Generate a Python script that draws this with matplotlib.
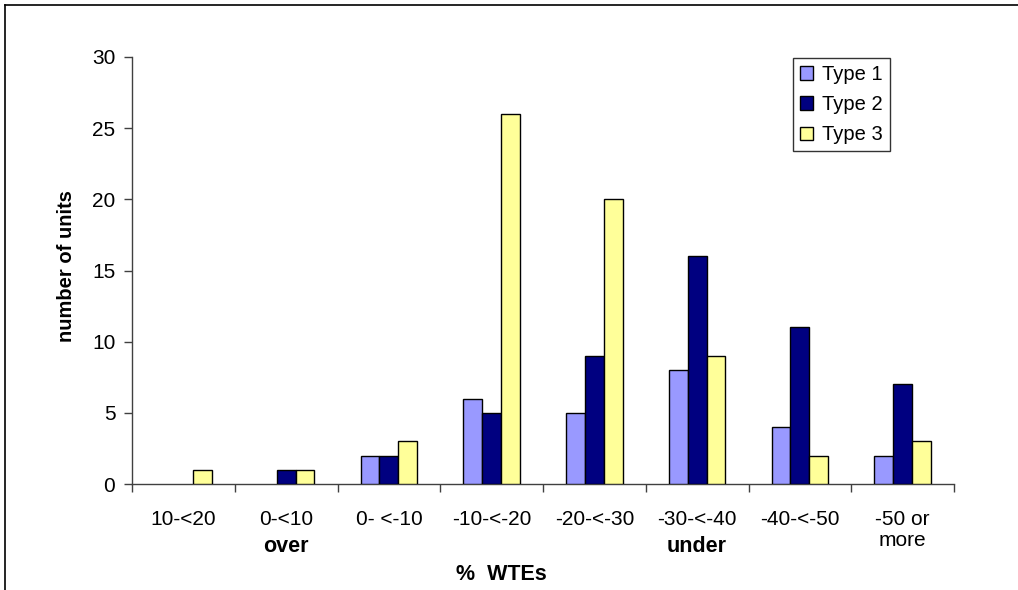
import matplotlib
matplotlib.use("Agg")
import matplotlib.pyplot as plt
from matplotlib.lines import Line2D
from matplotlib.patches import Patch
import numpy as np

plt.rcParams['font.family'] = ['Liberation Sans', 'DejaVu Sans']

categories = ["10-<20", "0-<10", "0- <-10", "-10-<-20", "-20-<-30", "-30-<-40", "-40-<-50", "-50 or\nmore"]
series_names = ["Type 1", "Type 2", "Type 3"]
type1 = [0, 0, 2, 6, 5, 8, 4, 2]
type2 = [0, 1, 2, 5, 9, 16, 11, 7]
type3 = [1, 1, 3, 26, 20, 9, 2, 3]
colors = ["#9999FF", "#000080", "#FFFF99"]

W, H = 1018, 590
fig = plt.figure(figsize=(W/100, H/100), dpi=100)
ax = fig.add_axes([132/W, 1-484/H, (954-132)/W, (484-57)/H])

x = np.arange(len(categories))
bw = 0.183
handles = []
for i, (vals, name, c) in enumerate(zip([type1, type2, type3], series_names, colors)):
    bars = ax.bar(x + (i-1)*bw, vals, width=bw, color=c, edgecolor="black", linewidth=1.0, zorder=3)
    for b, v in zip(bars, vals):
        if v == 0:
            b.set_visible(False)
    handles.append(Patch(facecolor=c, edgecolor="black", linewidth=1.0, label=name))

ax.set_xlim(-0.5, len(categories)-0.5)
ax.set_ylim(0, 30)
ax.set_yticks(range(0, 31, 5))
ax.tick_params(axis='y', direction='out', length=6, width=1, color='#404040', labelsize=15, pad=6)
ax.set_xticks(x)
ax.set_xticklabels(categories, fontsize=15, linespacing=1.1, va='top')
ax.tick_params(axis='x', which='major', length=0, pad=19)
ax.set_xticks(np.arange(-0.5, len(categories), 1.0), minor=True)
ax.tick_params(axis='x', which='minor', direction='out', length=6, width=1, color='#404040')

for s in ['top', 'right']:
    ax.spines[s].set_visible(False)
for s in ['left', 'bottom']:
    ax.spines[s].set_color('#404040')
    ax.spines[s].set_linewidth(1.0)

fig.text(67/W, 1-266/H, "number of units", rotation=90, ha='center', va='center', fontsize=14.5, fontweight='bold')
fig.text(286/W, 1-552/H, "over", ha='center', va='baseline', fontsize=15.5, fontweight='bold')
fig.text(697/W, 1-552/H, "under", ha='center', va='baseline', fontsize=15.5, fontweight='bold')
fig.text(501/W, 1-580/H, "%  WTEs", ha='center', va='baseline', fontsize=15.5, fontweight='bold')

leg = ax.legend(handles=handles, loc='upper left', bbox_to_anchor=(793/W, 1-58/H), bbox_transform=fig.transFigure,
                fontsize=14.5, frameon=True, fancybox=False, edgecolor='black', borderpad=0.35,
                handlelength=0.63, handleheight=0.63, handletextpad=0.45, labelspacing=0.55, borderaxespad=0)
leg.get_frame().set_linewidth(1.0)

# outer chart border (cropped at right and bottom)
fig.add_artist(Line2D([4.5/W, 4.5/W], [0, 1-4.5/H], transform=fig.transFigure, color='black', lw=1.2))
fig.add_artist(Line2D([4.5/W, 1], [1-4.5/H, 1-4.5/H], transform=fig.transFigure, color='black', lw=1.2))

fig.savefig("out.png", dpi=100)
